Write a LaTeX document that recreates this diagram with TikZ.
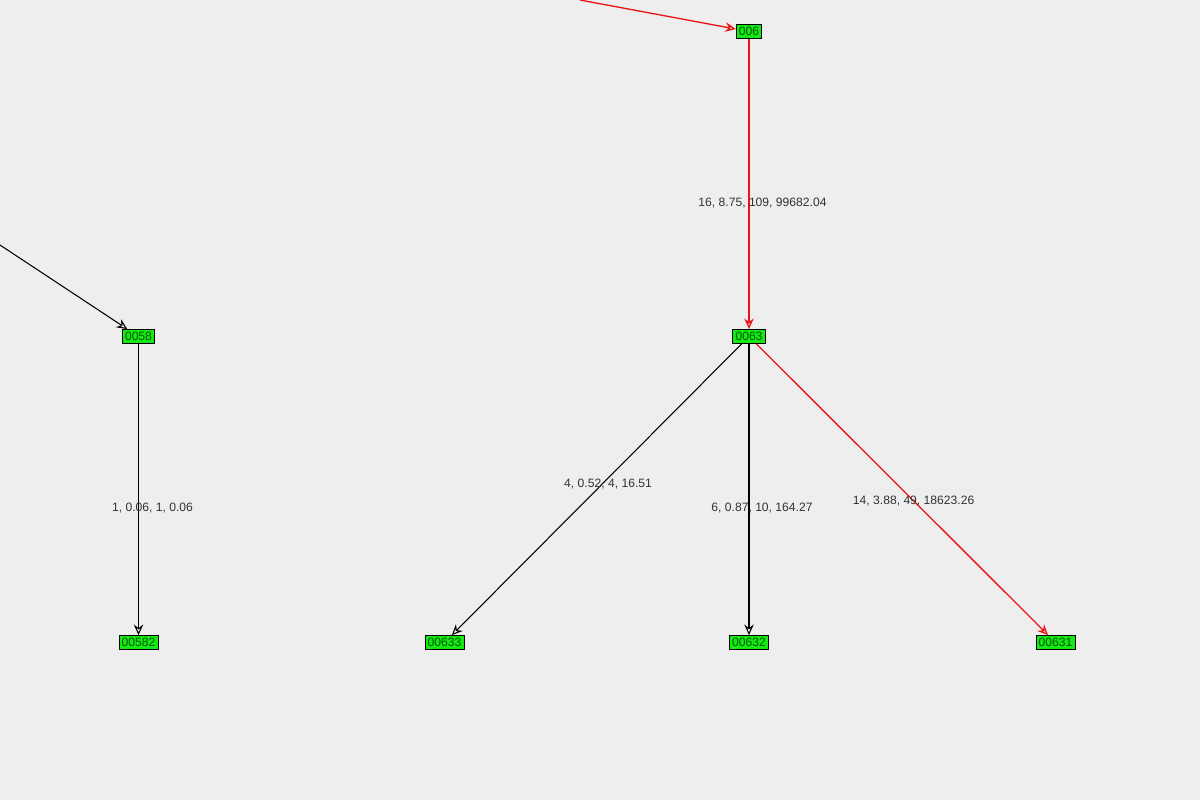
\documentclass[tikz,border=0pt]{standalone}
\usepackage{fontspec}
\setmainfont{Liberation Sans}
\usetikzlibrary{arrows.meta,positioning}
\definecolor{bgpane}{RGB}{238,238,238}
\definecolor{vfill}{RGB}{22,232,22}
\definecolor{vtext}{RGB}{0,90,0}
\definecolor{elabel}{RGB}{50,50,50}
\definecolor{hot}{RGB}{235,20,20}

\begin{document}
\begin{tikzpicture}[x=0.02cm,y=-0.02cm,
    vertex/.style={draw=black,line width=0.5pt,fill=vfill,text=vtext,font=\fontsize{6.9pt}{7pt}\selectfont,
      inner xsep=1.5pt,inner ysep=0pt,minimum height=0.28cm},
    link/.style={line width=0.6pt,-{Stealth[open,fill=bgpane,length=0.21cm,width=0.19cm,inset=0.07cm]}},
    hotlink/.style={link,color=hot,line width=0.75pt},
    elab/.style={text=elabel,font=\fontsize{6.9pt}{7pt}\selectfont,inner sep=0pt}]
        \fill[bgpane] (0,0) rectangle (1200,800);
        \useasboundingbox (0,0) rectangle (1200,800);
        % vertices
        \node[vertex] (n006) at (749,31.5) {006};
        \node[vertex] (n0058) at (138.5,336.5) {0058};
        \node[vertex] (n0063) at (749,336.5) {0063};
        \node[vertex] (n00582) at (138.5,642.5) {00582};
        \node[vertex] (n00633) at (444.5,642.5) {00633};
        \node[vertex] (n00632) at (749,642.5) {00632};
        \node[vertex] (n00631) at (1055.5,642.5) {00631};
        \coordinate (in006) at (580,0);
        \coordinate (in0058) at (0,245);
        % edges
        \draw[hotlink] (in006) -- (n006);
        \draw[link] (in0058) -- (n0058);
        \draw[hotlink] (n006) -- (n0063);
        \draw[link] (n0058) -- (n00582);
        \draw[link] (n0063) -- (n00633);
        \draw[link] (n0063) -- (n00632);
        \draw[hotlink] (n0063) -- (n00631);
        % edge labels
        \path (n006) -- node[elab,pos=0.564,xshift=0.27cm] {16, 8.75, 109, 99682.04} (n0063);
        \path (n0058) -- node[elab,pos=0.562,xshift=0.28cm] {1, 0.06, 1, 0.06} (n00582);
        \path (n0063) -- node[elab,pos=0.48,xshift=0.11cm] {4, 0.52, 4, 16.51} (n00633);
        \path (n0063) -- node[elab,pos=0.562,xshift=0.26cm] {6, 0.87, 10, 164.27} (n00632);
        \path (n0063) -- node[elab,pos=0.539] {14, 3.88, 49, 18623.26} (n00631);
\end{tikzpicture}
\end{document}
